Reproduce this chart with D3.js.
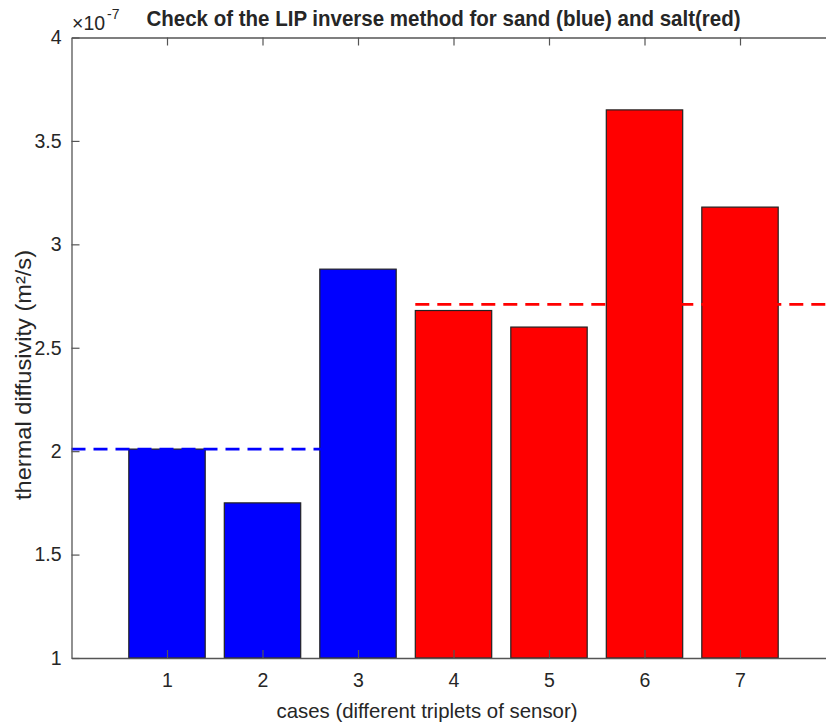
<!DOCTYPE html>
<html><head><meta charset="utf-8">
<script src="https://cdn.jsdelivr.net/npm/d3@7"></script>
<style>body{margin:0;background:#fff;} svg{display:block;} text{font-family:"Liberation Sans",Arial,sans-serif;fill:#262626;}</style>
</head><body>
<script>
const cases = [1,2,3,4,5,6,7];
const values = [2.01,1.75,2.88,2.68,2.60,3.65,3.18];
const colors = ["#0000ff","#0000ff","#0000ff","#ff0000","#ff0000","#ff0000","#ff0000"];
const yTicks = [1,1.5,2,2.5,3,3.5,4];
const yTickLabels = ["1","1.5","2","2.5","3","3.5","4"];
const refLines = [{from:0,to:3.4,value:2.01,color:"#0000ff"},{from:3.6,to:8,value:2.71,color:"#ff0000"}];
const title = "Check of the LIP inverse method for sand (blue) and salt(red)";
const xLabel = "cases (different triplets of sensor)";

const W=826,H=725;
const svg=d3.select("body").append("svg").attr("width",W).attr("height",H);
const x=d3.scaleLinear().domain([0,8]).range([71.5,835.5]);
const y=d3.scaleLinear().domain([1,4]).range([658,37.5]);
const axisColor="#555";
const tickFont="19.5px";

// bars
svg.append("g").selectAll("rect").data(cases).join("rect")
 .attr("x",d=>x(d-0.4)).attr("width",x(0.8)-x(0))
 .attr("y",(d,i)=>y(values[i])).attr("height",(d,i)=>y(1)-y(values[i]))
 .attr("fill",(d,i)=>colors[i]).attr("stroke","#222").attr("stroke-width",1.2);

// reference dashed lines
svg.append("g").selectAll("line").data(refLines).join("line")
 .attr("x1",d=>x(d.from)).attr("x2",d=>x(d.to))
 .attr("y1",d=>y(d.value)).attr("y2",d=>y(d.value))
 .attr("stroke",d=>d.color).attr("stroke-width",2.8).attr("stroke-dasharray","14,8");

// axes
const yAx=d3.axisLeft(y).tickValues(yTicks).tickFormat((d,i)=>yTickLabels[i]).tickSizeInner(-8).tickSizeOuter(0).tickPadding(10);
const gy=svg.append("g").attr("transform",`translate(${x(0)},0)`).call(yAx);
const xAx=d3.axisBottom(x).tickValues(cases).tickFormat(d3.format("d")).tickSizeInner(-8).tickSizeOuter(0).tickPadding(15);
const gx=svg.append("g").attr("transform",`translate(0,${y(1)})`).call(xAx);
const xTop=d3.axisTop(x).tickValues(cases).tickFormat("").tickSizeInner(-8).tickSizeOuter(0);
const gt=svg.append("g").attr("transform",`translate(0,${y(4)})`).call(xTop);
[gy,gx,gt].forEach(g=>{
  g.attr("font-size",null).attr("font-family",null);
  g.selectAll(".domain").attr("stroke",axisColor).attr("stroke-width",1.3);
  g.selectAll(".tick line").attr("stroke",axisColor).attr("stroke-width",1.2);
  g.selectAll("text").style("font-size",tickFont).style("font-family",'"Liberation Sans",Arial,sans-serif').attr("fill","#262626");
});

// exponent
const ex=svg.append("text").attr("x",72).attr("y",30).style("font-size","19.5px");
ex.append("tspan").text("×10");
ex.append("tspan").attr("dy",-11).attr("dx",2).style("font-size","14px").text("-7");

// title
svg.append("text").attr("x",443.5).attr("y",26).attr("text-anchor","middle")
 .attr("textLength",594).attr("lengthAdjust","spacingAndGlyphs")
 .style("font-size","22px").style("font-weight","bold")
 .text(title);

// x label
svg.append("text").attr("x",427).attr("y",718).attr("text-anchor","middle")
 .attr("textLength",301).attr("lengthAdjust","spacingAndGlyphs")
 .style("font-size","21px").text(xLabel);

// y label
svg.append("text").attr("transform","translate(31,375) rotate(-90)").attr("text-anchor","middle")
 .attr("textLength",250).attr("lengthAdjust","spacingAndGlyphs").style("font-size","22px")
 .text("thermal diffusivity (m²/s)");
</script>
</body></html>
